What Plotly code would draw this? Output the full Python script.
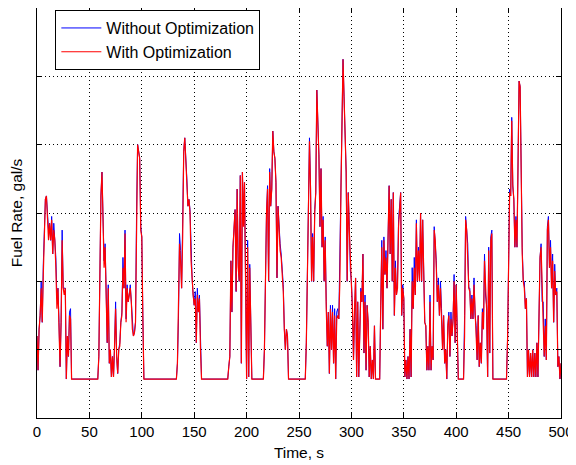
import plotly.graph_objects as go

# Time axis, one sample per second
time_s = list(range(0, 501))

# Fuel rate with optimization (red) (arbitrary units, grid = 1)
fuel_with_opt = [
    1.2, 0.7, 1.3, 1.5, 1.9, 1.4, 2.1, 2.9, 3.2, 3.25,
    3.0, 2.6, 2.85, 2.6, 2.9, 2.4, 2.75, 2.6, 2.2, 1.6,
    1.9, 1.4, 0.75, 1.4, 2.6, 1.9, 1.8, 1.9, 0.57, 1.2,
    0.9, 1.5, 1.45, 0.57, 0.57, 0.57, 0.57, 0.57, 0.57, 0.57,
    0.57, 0.57, 0.57, 0.57, 0.57, 0.57, 0.57, 0.57, 0.57, 0.57,
    0.57, 0.57, 0.57, 0.57, 0.57, 0.57, 0.57, 0.57, 0.57, 0.9,
    2.1, 3.25, 3.6, 2.6, 2.2, 2.5, 1.7, 1.1, 1.9, 0.8,
    1.0, 0.6, 0.9, 0.6, 1.05, 1.6, 0.9, 0.65, 1.0, 1.05,
    1.4, 1.5, 2.2, 1.9, 2.7, 1.4, 1.9, 1.7, 1.8, 1.9,
    1.7, 1.3, 1.2, 1.25, 1.4, 3.0, 4.0, 3.9, 3.8, 2.75,
    2.65, 1.45, 0.57, 0.57, 0.57, 0.57, 0.57, 0.57, 0.57, 0.57,
    0.57, 0.57, 0.57, 0.57, 0.57, 0.57, 0.57, 0.57, 0.57, 0.57,
    0.57, 0.57, 0.57, 0.57, 0.57, 0.57, 0.57, 0.57, 0.57, 0.57,
    0.57, 0.57, 0.57, 0.57, 0.8, 1.45, 2.55, 2.3, 1.9, 2.65,
    3.9, 4.1, 3.8, 3.45, 3.1, 3.2, 3.0, 2.3, 1.95, 1.8,
    1.65, 1.75, 1.1, 1.8, 1.55, 1.75, 1.0, 0.57, 0.57, 0.57,
    0.57, 0.57, 0.57, 0.57, 0.57, 0.57, 0.57, 0.57, 0.57, 0.57,
    0.57, 0.57, 0.57, 0.57, 0.57, 0.57, 0.57, 0.57, 0.57, 0.57,
    0.57, 0.57, 0.57, 0.75, 0.9, 2.3, 1.55, 2.5, 2.75, 3.05,
    1.85, 3.35, 2.2, 2.0, 3.55, 0.8, 3.6, 2.8, 3.45, 1.9,
    0.57, 2.5, 0.6, 2.2, 1.2, 0.57, 0.57, 0.57, 0.57, 0.57,
    0.57, 0.57, 0.57, 0.57, 0.57, 0.57, 0.57, 1.0, 2.2, 3.0,
    3.35, 2.0, 3.6, 3.1, 3.35, 4.2, 3.9, 3.8, 3.45, 2.05,
    3.1, 2.65, 2.45, 2.35, 2.05, 1.85, 1.3, 1.0, 1.3, 1.2,
    0.57, 0.57, 0.57, 0.57, 0.57, 0.57, 0.57, 0.57, 0.57, 0.57,
    0.57, 0.57, 0.57, 0.57, 0.57, 0.57, 0.57, 1.1, 2.05, 3.25,
    4.05, 3.35, 2.0, 2.65, 2.0, 3.0, 3.3, 4.8, 4.45, 3.85,
    2.8, 3.65, 2.5, 2.9, 2.0, 2.6, 1.6, 1.05, 1.55, 0.65,
    1.6, 1.0, 1.55, 0.8, 1.5, 0.57, 1.45, 1.5, 1.45, 2.0,
    3.3, 4.5, 5.25, 4.7, 4.0, 3.6, 2.0, 3.3, 2.75, 2.15,
    1.95, 1.6, 0.85, 1.6, 2.05, 0.6, 1.7, 0.6, 1.45, 1.85,
    1.7, 2.4, 0.95, 1.7, 0.7, 1.65, 1.4, 0.6, 1.05, 0.57,
    0.85, 0.57, 1.35, 0.57, 0.57, 0.57, 0.57, 0.57, 1.65, 2.5,
    1.3, 2.6, 2.1, 2.35, 1.9, 3.0, 3.4, 2.4, 3.2, 2.0,
    3.3, 1.5, 2.2, 1.8, 1.9, 2.8, 3.1, 3.3, 1.5, 1.9,
    1.75, 0.6, 0.85, 0.57, 0.9, 0.57, 1.3, 0.6, 2.0, 1.6,
    2.2, 1.8, 2.85, 2.0, 2.45, 2.0, 3.0, 2.0, 2.9, 2.0,
    1.4, 1.35, 0.7, 1.05, 0.7, 1.7, 0.7, 1.05, 0.85, 2.75,
    2.6, 2.2, 1.7, 1.95, 1.5, 1.9, 1.5, 1.0, 1.5, 0.8,
    1.0, 0.57, 1.35, 1.5, 0.9, 1.45, 1.2, 1.45, 2.0, 1.1,
    1.95, 1.1, 0.57, 0.57, 0.57, 0.57, 0.57, 0.57, 1.2, 2.9,
    2.75, 2.4, 1.9, 1.85, 1.45, 1.75, 1.45, 1.95, 1.5, 1.35,
    0.85, 1.5, 0.75, 1.1, 0.8, 1.55, 1.3, 2.3, 1.8, 1.6,
    0.6, 2.45, 0.95, 2.6, 2.7, 0.57, 0.57, 0.57, 0.57, 0.57,
    0.57, 0.57, 0.57, 0.57, 0.57, 0.57, 0.57, 0.57, 0.57, 1.15,
    2.6, 3.3, 3.25, 4.35, 3.4, 3.2, 2.5, 2.9, 2.5, 4.05,
    4.93, 4.85, 3.4, 2.4, 2.0, 1.9, 1.6, 1.75, 0.6, 1.0,
    0.6, 0.95, 0.6, 1.0, 0.6, 0.95, 0.6, 1.1, 0.6, 1.55,
    2.35, 2.5, 1.7, 1.4, 0.9, 1.35, 0.85, 2.75, 2.9, 2.2,
    2.5, 1.9, 2.3, 1.4, 2.15, 1.8, 1.85, 0.75, 0.9, 0.57,
    0.8,
]

# Fuel rate without optimization (blue)
fuel_without_opt = [
    1.2, 0.7, 1.3, 1.5, 2.0, 1.4, 2.25, 2.9, 3.2, 3.25,
    3.0, 2.75, 2.85, 2.6, 2.95, 2.4, 2.85, 2.6, 2.35, 1.75,
    1.9, 1.4, 0.75, 1.4, 2.75, 1.9, 1.9, 1.9, 0.57, 1.2,
    0.9, 1.55, 1.6, 0.57, 0.57, 0.57, 0.57, 0.57, 0.57, 0.57,
    0.57, 0.57, 0.57, 0.57, 0.57, 0.57, 0.57, 0.57, 0.57, 0.57,
    0.57, 0.57, 0.57, 0.57, 0.57, 0.57, 0.57, 0.57, 0.57, 0.9,
    2.1, 3.25, 3.6, 2.75, 2.3, 2.55, 1.7, 1.1, 1.95, 0.8,
    1.0, 0.6, 0.9, 0.6, 1.05, 1.7, 0.9, 0.65, 1.0, 1.1,
    1.4, 1.55, 2.35, 1.9, 2.75, 1.45, 1.95, 1.7, 1.8, 1.95,
    1.7, 1.35, 1.2, 1.25, 1.4, 3.0, 4.0, 3.9, 3.8, 2.8,
    2.65, 1.5, 0.57, 0.57, 0.57, 0.57, 0.57, 0.57, 0.57, 0.57,
    0.57, 0.57, 0.57, 0.57, 0.57, 0.57, 0.57, 0.57, 0.57, 0.57,
    0.57, 0.57, 0.57, 0.57, 0.57, 0.57, 0.57, 0.57, 0.57, 0.57,
    0.57, 0.57, 0.57, 0.57, 0.8, 1.45, 2.7, 2.45, 1.9, 2.7,
    3.9, 4.1, 3.85, 3.5, 3.1, 3.2, 3.05, 2.4, 2.05, 1.8,
    1.65, 1.85, 1.1, 1.9, 1.55, 1.8, 1.0, 0.57, 0.57, 0.57,
    0.57, 0.57, 0.57, 0.57, 0.57, 0.57, 0.57, 0.57, 0.57, 0.57,
    0.57, 0.57, 0.57, 0.57, 0.57, 0.57, 0.57, 0.57, 0.57, 0.57,
    0.57, 0.57, 0.57, 0.75, 0.9, 2.3, 1.55, 2.5, 2.8, 3.05,
    1.85, 3.35, 2.25, 2.0, 3.55, 0.8, 3.6, 2.85, 3.45, 1.95,
    0.57, 2.6, 0.6, 2.25, 1.2, 0.57, 0.57, 0.57, 0.57, 0.57,
    0.57, 0.57, 0.57, 0.57, 0.57, 0.57, 0.57, 1.0, 2.2, 3.0,
    3.4, 2.0, 3.65, 3.1, 3.35, 4.2, 3.9, 3.8, 3.45, 2.05,
    3.1, 2.7, 2.55, 2.4, 2.05, 1.95, 1.3, 1.0, 1.3, 1.2,
    0.57, 0.57, 0.57, 0.57, 0.57, 0.57, 0.57, 0.57, 0.57, 0.57,
    0.57, 0.57, 0.57, 0.57, 0.57, 0.57, 0.57, 1.1, 2.05, 3.25,
    4.1, 3.4, 2.0, 2.7, 2.0, 3.05, 3.3, 4.8, 4.45, 3.85,
    2.8, 3.65, 2.5, 2.95, 2.0, 2.65, 1.7, 1.05, 1.55, 0.65,
    1.65, 1.0, 1.65, 0.8, 1.6, 0.57, 1.55, 1.6, 1.45, 2.4,
    3.3, 4.5, 5.25, 4.7, 4.0, 3.6, 2.0, 3.3, 2.8, 2.15,
    2.0, 1.6, 0.85, 1.6, 2.05, 0.6, 1.7, 0.6, 1.45, 1.9,
    1.7, 2.4, 0.95, 1.8, 0.7, 1.65, 1.4, 0.6, 1.05, 0.57,
    0.85, 0.57, 1.35, 0.57, 0.57, 0.57, 0.57, 0.57, 1.65, 2.6,
    1.3, 2.65, 2.1, 2.45, 1.9, 3.0, 3.4, 2.4, 3.2, 2.0,
    3.3, 1.5, 2.3, 1.8, 2.0, 2.9, 3.1, 3.3, 1.5, 1.95,
    1.75, 0.6, 0.85, 0.57, 0.9, 0.57, 1.3, 0.6, 2.2, 1.6,
    2.35, 1.8, 2.9, 2.0, 2.5, 2.0, 3.0, 2.0, 2.9, 2.1,
    1.4, 1.35, 0.7, 1.05, 0.7, 1.8, 0.7, 1.05, 0.85, 2.8,
    2.6, 2.3, 1.7, 2.05, 1.5, 2.0, 1.6, 1.0, 1.5, 0.8,
    1.0, 0.57, 1.35, 1.55, 0.9, 1.55, 1.2, 1.45, 2.1, 1.1,
    1.95, 1.1, 0.57, 0.57, 0.57, 0.57, 0.57, 0.57, 1.5, 2.95,
    2.75, 2.55, 1.9, 1.9, 1.45, 1.8, 1.45, 2.05, 1.5, 1.35,
    0.85, 1.5, 0.75, 1.1, 0.8, 1.6, 1.3, 2.4, 1.8, 1.65,
    0.6, 2.5, 0.95, 2.65, 2.75, 0.57, 0.57, 0.57, 0.57, 0.57,
    0.57, 0.57, 0.57, 0.57, 0.57, 0.57, 0.57, 0.57, 0.57, 1.15,
    2.6, 3.35, 3.25, 4.4, 3.4, 3.2, 2.5, 2.95, 2.5, 4.05,
    4.93, 4.85, 3.4, 2.5, 2.0, 2.0, 1.6, 1.75, 0.6, 1.0,
    0.6, 0.95, 0.6, 1.0, 0.6, 0.95, 0.6, 1.1, 0.6, 1.7,
    2.35, 2.55, 1.7, 1.7, 0.9, 1.45, 0.85, 2.8, 2.95, 2.2,
    2.6, 1.9, 2.4, 1.4, 2.25, 1.8, 1.9, 0.75, 0.9, 0.57,
    0.8,
]

x_ticks = [0, 50, 100, 150, 200, 250, 300, 350, 400, 450, 500]
x_tick_labels = ["0", "50", "100", "150", "200", "250", "300", "350", "400", "450", "500"]
y_ticks = [0, 1, 2, 3, 4, 5, 6]

FONT = "Liberation Sans, Arial, Helvetica, sans-serif"

fig = go.Figure()
fig.add_trace(go.Scatter(x=time_s, y=fuel_without_opt, mode="lines",
                         name="Without Optimization",
                         line=dict(color="#0000FF", width=1)))
fig.add_trace(go.Scatter(x=time_s, y=fuel_with_opt, mode="lines",
                         name="With Optimization",
                         line=dict(color="#FF0000", width=1.2)))

axis_common = dict(
    showline=True, linecolor="black", linewidth=1, mirror="allticks",
    ticks="inside", ticklen=5, tickcolor="black", tickwidth=1,
    showgrid=True, gridcolor="black", gridwidth=1, griddash="1px,3px",
    zeroline=False, automargin=False,
)

# The page body adds an 8px offset; the figure size and margins account for it
fig.update_layout(
    width=568, height=457,
    margin=dict(l=29, r=15, t=0, b=47, pad=0),
    paper_bgcolor="white", plot_bgcolor="white",
    font=dict(family=FONT, size=15, color="black"),
    xaxis=dict(range=[0, 500], tickvals=x_ticks, ticktext=x_tick_labels,
               tickfont=dict(size=15),
               title=dict(text="Time, s", standoff=8, font=dict(size=15.5)),
               **axis_common),
    yaxis=dict(range=[0, 6], tickvals=y_ticks, showticklabels=False,
               title=dict(text="Fuel Rate, gal/s", standoff=12, font=dict(size=15.5)),
               **axis_common),
    legend=dict(x=0.035, y=0.995, xanchor="left", yanchor="top",
                bgcolor="white", bordercolor="black", borderwidth=1,
                itemwidth=40,
                font=dict(size=16), tracegroupgap=0),
    showlegend=True,
)

fig.write_html("out.html")
